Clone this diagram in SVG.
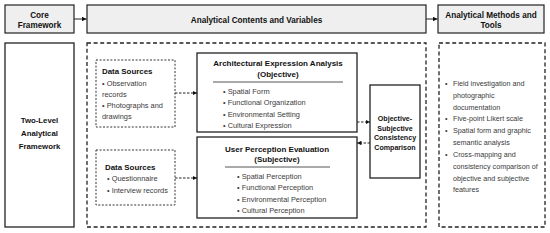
<svg xmlns="http://www.w3.org/2000/svg" width="550" height="233" viewBox="0 0 550 233">
<defs>
<marker id="ah" viewBox="0 0 10 10" refX="10" refY="5" markerWidth="4.5" markerHeight="4.5" orient="auto" markerUnits="userSpaceOnUse"><path d="M0,0 L10,5 L0,10 z" fill="#111"/></marker>
</defs>
<style>
.hdr{fill:#efefef;stroke:#222;stroke-width:1.2}
.solid{fill:#fff;stroke:#222;stroke-width:1.3}
.dash{fill:none;stroke:#222;stroke-width:1.3;stroke-dasharray:4 2.6}
.dot{fill:none;stroke:#333;stroke-width:1;stroke-dasharray:2 1.6}
.b{font-family:"Liberation Sans",Arial,sans-serif;font-weight:bold;font-size:8.2px;fill:#111}
.t{font-family:"Liberation Sans",Arial,sans-serif;font-size:7.4px;fill:#3a3a3a}
.m{font-family:"Liberation Sans",Arial,sans-serif;font-size:7.2px;fill:#3a3a3a}
.c{text-anchor:middle}
.conn{stroke:#222;stroke-width:1;fill:none}
.dconn{stroke:#222;stroke-width:1;fill:none;stroke-dasharray:2.5 1.5}
</style>
<rect width="550" height="233" fill="#fff"/>
<g id="core-framework">
<rect class="hdr" x="5" y="5" width="69" height="28"/>
<text class="b c" x="39.5" y="17.5">Core</text>
<text class="b c" x="39.5" y="28">Framework</text>
</g>
<g id="analytical-contents">
<rect class="hdr" x="87" y="5" width="339" height="28"/>
<text class="b c" x="256.5" y="22.5">Analytical Contents and Variables</text>
</g>
<g id="analytical-methods">
<rect class="hdr" x="438" y="5" width="106" height="28"/>
<text class="b c" x="491" y="17.5">Analytical Methods and</text>
<text class="b c" x="491" y="28">Tools</text>
</g>
<g id="two-level">
<rect class="solid" x="5" y="43" width="69" height="184"/>
<text class="b c" x="39.5" y="123" style="font-size:7.8px">Two-Level</text>
<text class="b c" x="39.5" y="136" style="font-size:7.8px">Analytical</text>
<text class="b c" x="39.5" y="149" style="font-size:7.8px">Framework</text>
</g>
<g id="contents-panel">
<rect class="dash" x="87" y="43" width="339" height="184"/>
</g>
<g id="methods-panel">
<rect class="dash" x="439" y="43" width="106" height="184"/>
<g class="m">
<text x="445" y="86">•</text><text x="453" y="86">Field investigation and</text>
<text x="453" y="98">photographic</text>
<text x="453" y="109.5">documentation</text>
<text x="445" y="121">•</text><text x="453" y="121">Five-point Likert scale</text>
<text x="445" y="132.5">•</text><text x="453" y="132.5">Spatial form and graphic</text>
<text x="453" y="144.5">semantic analysis</text>
<text x="445" y="157">•</text><text x="453" y="157">Cross-mapping and</text>
<text x="453" y="169">consistency comparison of</text>
<text x="453" y="180.5">objective and subjective</text>
<text x="453" y="192">features</text>
</g>
</g>
<g id="data-sources-1">
<rect class="dot" x="96" y="60" width="79" height="67"/>
<text class="b" x="102" y="74" style="font-size:7.9px">Data Sources</text>
<text class="t" x="102" y="85.5">• Observation</text>
<text class="t" x="102" y="96.5">records</text>
<text class="t" x="102" y="108">• Photographs and</text>
<text class="t" x="102" y="119">drawings</text>
</g>
<g id="data-sources-2">
<rect class="dot" x="96" y="150" width="79" height="55"/>
<text class="b" x="105" y="170" style="font-size:7.9px">Data Sources</text>
<text class="t" x="107" y="181">• Questionnaire</text>
<text class="t" x="107" y="192.5">• Interview records</text>
</g>
<g id="architectural-expression">
<rect class="solid" x="197" y="53" width="160" height="79"/>
<text class="b c" x="278" y="66" style="font-size:8px">Architectural Expression Analysis</text>
<text class="b c" x="278" y="77" style="font-size:8px">(Objective)</text>
<line x1="213" y1="82" x2="343" y2="82" stroke="#555" stroke-width="1"/>
<text class="t" x="223" y="93.5">• Spatial Form</text>
<text class="t" x="223" y="105">• Functional Organization</text>
<text class="t" x="223" y="116.5">• Environmental Setting</text>
<text class="t" x="223" y="128">• Cultural Expression</text>
</g>
<g id="user-perception">
<rect class="solid" x="197" y="137" width="160" height="81"/>
<text class="b c" x="277" y="151.5" style="font-size:8px">User Perception Evaluation</text>
<text class="b c" x="277" y="162" style="font-size:8px">(Subjective)</text>
<line x1="225" y1="167" x2="330" y2="167" stroke="#555" stroke-width="1"/>
<text class="t" x="237" y="178.5">• Spatial Perception</text>
<text class="t" x="237" y="190">• Functional Perception</text>
<text class="t" x="237" y="201.5">• Environmental Perception</text>
<text class="t" x="237" y="213">• Cultural Perception</text>
</g>
<g id="consistency-comparison">
<rect class="solid" x="370" y="85" width="50" height="93"/>
<text class="b c" x="395" y="121" style="font-size:7.1px">Objective-</text>
<text class="b c" x="395" y="130.5" style="font-size:7.1px">Subjective</text>
<text class="b c" x="395" y="140" style="font-size:7.1px">Consistency</text>
<text class="b c" x="395" y="149.5" style="font-size:7.1px">Comparison</text>
</g>
<g id="connectors">
<line class="conn" x1="74" y1="19" x2="86.5" y2="19" marker-end="url(#ah)"/>
<line class="conn" x1="426" y1="19" x2="437.5" y2="19" marker-end="url(#ah)"/>
<line class="dconn" x1="175" y1="93" x2="197" y2="93" marker-end="url(#ah)"/>
<line class="dconn" x1="175" y1="178" x2="197" y2="178" marker-end="url(#ah)"/>
<line class="dconn" x1="357" y1="122" x2="370" y2="122" marker-end="url(#ah)"/>
<line class="dconn" x1="370" y1="143" x2="357" y2="143" marker-end="url(#ah)"/>
</g>
</svg>
